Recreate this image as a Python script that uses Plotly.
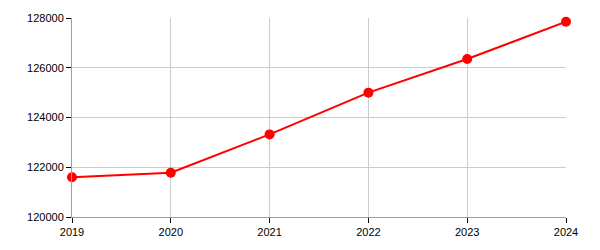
import plotly.graph_objects as go

years = [2019, 2020, 2021, 2022, 2023, 2024]
values = [121600, 121780, 123320, 125000, 126350, 127850]
y_ticks = [120000, 122000, 124000, 126000, 128000]

fig = go.Figure()
fig.add_trace(go.Scatter(
    x=years, y=values, mode="lines+markers",
    line=dict(color="#ff0000", width=2),
    marker=dict(color="#ff0000", size=10),
    cliponaxis=False,
))

axis_common = dict(
    showline=True, linecolor="#a0a0a0", linewidth=1,
    showgrid=True, gridcolor="#cccccc", gridwidth=1,
    ticks="outside", ticklen=5, tickcolor="#000000", tickwidth=1,
    tickfont=dict(family="Liberation Sans, Arial, sans-serif", size=11, color="#000000"),
    zeroline=False,
)

fig.update_xaxes(range=[2019, 2024], tickvals=years, ticktext=[str(y) for y in years], **axis_common)
fig.update_yaxes(range=[120000, 128000], tickvals=y_ticks, ticktext=[str(v) for v in y_ticks], **axis_common)

fig.update_layout(
    width=600, height=250,
    margin=dict(l=72, r=34, t=15, b=33),
    plot_bgcolor="#ffffff", paper_bgcolor="#ffffff",
    showlegend=False,
)

fig.write_html("out.html")
